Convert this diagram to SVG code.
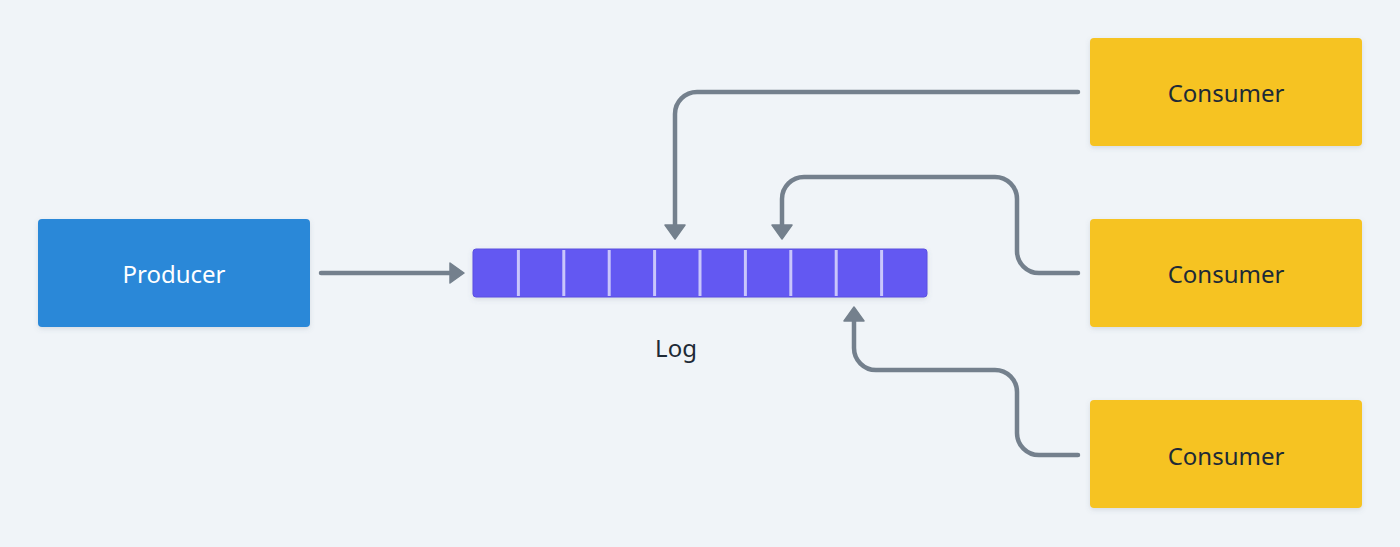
<svg xmlns="http://www.w3.org/2000/svg" width="1400" height="547" viewBox="0 0 1400 547">
<defs>
<filter id="sh" x="-10%" y="-10%" width="120%" height="130%">
<feDropShadow dx="0" dy="2" stdDeviation="2.5" flood-color="#5a6a80" flood-opacity="0.18"/>
</filter>
<marker id="ah" markerUnits="userSpaceOnUse" markerWidth="16" markerHeight="22" viewBox="0 0 16 22" refX="6" refY="11" orient="auto">
<path d="M1,1 L15,11 L1,21 Z" fill="#74808d" stroke="#74808d" stroke-width="1.5" stroke-linejoin="round"/>
</marker>
</defs>
<style>
.lbl{font-family:"Noto Sans","DejaVu Sans",sans-serif;font-size:24px;text-anchor:middle;dominant-baseline:central}
.con{fill:none;stroke:#74808d;stroke-width:4.5;stroke-linecap:round;stroke-linejoin:round;marker-end:url(#ah)}
.cons{fill:#f6c324}
.sep{stroke:#c9c6fb;stroke-width:3}
</style>
<rect width="1400" height="547" fill="#f0f4f8"/>
<g id="producer">
<rect x="38" y="219" width="272" height="108" rx="4" fill="#2b88d8" filter="url(#sh)"/>
<text class="lbl" x="174" y="273" fill="#ffffff">Producer</text>
</g>
<g id="log">
<rect x="473" y="249" width="454" height="48" rx="3" fill="#6359f2" stroke="#5a4fe0" stroke-width="1" filter="url(#sh)"/>
<line class="sep" x1="518.4" y1="250" x2="518.4" y2="296"/>
<line class="sep" x1="563.8" y1="250" x2="563.8" y2="296"/>
<line class="sep" x1="609.2" y1="250" x2="609.2" y2="296"/>
<line class="sep" x1="654.6" y1="250" x2="654.6" y2="296"/>
<line class="sep" x1="700" y1="250" x2="700" y2="296"/>
<line class="sep" x1="745.4" y1="250" x2="745.4" y2="296"/>
<line class="sep" x1="790.8" y1="250" x2="790.8" y2="296"/>
<line class="sep" x1="836.2" y1="250" x2="836.2" y2="296"/>
<line class="sep" x1="881.6" y1="250" x2="881.6" y2="296"/>
<text class="lbl" x="676" y="347" fill="#1e2a36">Log</text>
</g>
<g id="consumer1">
<rect class="cons" x="1090" y="38" width="272" height="108" rx="4" filter="url(#sh)"/>
<text class="lbl" x="1226" y="92" fill="#1e2a36">Consumer</text>
</g>
<g id="consumer2">
<rect class="cons" x="1090" y="219" width="272" height="108" rx="4" filter="url(#sh)"/>
<text class="lbl" x="1226" y="273" fill="#1e2a36">Consumer</text>
</g>
<g id="consumer3">
<rect class="cons" x="1090" y="400" width="272" height="108" rx="4" filter="url(#sh)"/>
<text class="lbl" x="1226" y="455" fill="#1e2a36">Consumer</text>
</g>
<g id="connectors">
<path class="con" d="M321,273 H455"/>
<path class="con" d="M1078,92 H697 A22,22 0 0 0 675,114 V230"/>
<path class="con" d="M1078,273 H1039 A22,22 0 0 1 1017,251 V199 A22,22 0 0 0 995,177 H804 A22,22 0 0 0 782,199 V230"/>
<path class="con" d="M1078,455 H1039 A22,22 0 0 1 1017,433 V392 A22,22 0 0 0 995,370 H876 A22,22 0 0 1 854,348 V316"/>
</g>
</svg>
